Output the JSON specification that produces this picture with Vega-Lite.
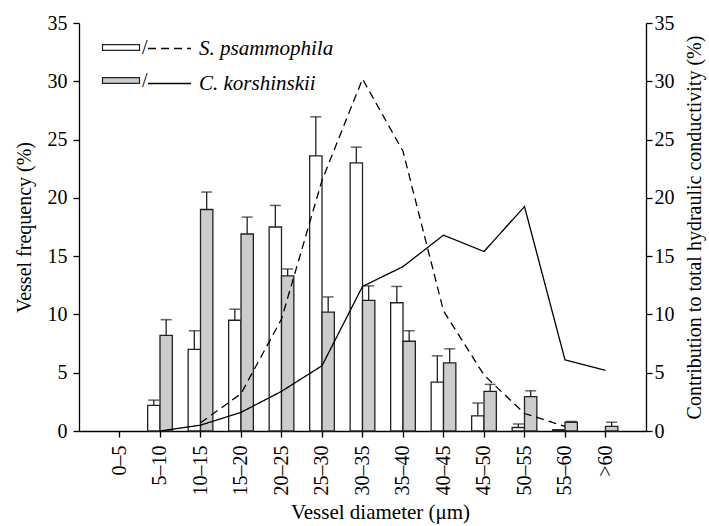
{
  "$schema": "https://vega.github.io/schema/vega-lite/v6.json",
  "width": 567,
  "height": 408,
  "autosize": {"type": "none"},
  "padding": {"left": 79, "top": 23, "right": 63, "bottom": 95},
  "background": "white",
  "config": {
    "view": {"stroke": null},
    "font": "Liberation Serif",
    "axis": {
      "labelFont": "Liberation Serif", "titleFont": "Liberation Serif",
      "labelFontSize": 20, "titleFontSize": 20, "titleFontWeight": "normal",
      "labelColor": "black", "titleColor": "black", "domainColor": "black", "tickColor": "black",
      "grid": false, "tickSize": 6, "domainWidth": 1.3, "tickWidth": 1.3
    },
    "legend": {"labelFont": "Liberation Serif", "labelFontSize": 21, "labelColor": "black", "padding": 0}
  },
  "datasets": {
    "bars": [
      {"d": "5–10", "sp": "S. psammophila", "freq": 2.2, "hi": 2.65},
      {"d": "5–10", "sp": "C. korshinskii", "freq": 8.2, "hi": 9.55},
      {"d": "10–15", "sp": "S. psammophila", "freq": 7.0, "hi": 8.6},
      {"d": "10–15", "sp": "C. korshinskii", "freq": 19.0, "hi": 20.5},
      {"d": "15–20", "sp": "S. psammophila", "freq": 9.5, "hi": 10.45},
      {"d": "15–20", "sp": "C. korshinskii", "freq": 16.9, "hi": 18.35},
      {"d": "20–25", "sp": "S. psammophila", "freq": 17.5, "hi": 19.35},
      {"d": "20–25", "sp": "C. korshinskii", "freq": 13.3, "hi": 13.9},
      {"d": "25–30", "sp": "S. psammophila", "freq": 23.6, "hi": 26.95},
      {"d": "25–30", "sp": "C. korshinskii", "freq": 10.2, "hi": 11.5},
      {"d": "30–35", "sp": "S. psammophila", "freq": 23.0, "hi": 24.35},
      {"d": "30–35", "sp": "C. korshinskii", "freq": 11.2, "hi": 12.45},
      {"d": "35–40", "sp": "S. psammophila", "freq": 11.0, "hi": 12.4},
      {"d": "35–40", "sp": "C. korshinskii", "freq": 7.7, "hi": 8.6},
      {"d": "40–45", "sp": "S. psammophila", "freq": 4.2, "hi": 6.45},
      {"d": "40–45", "sp": "C. korshinskii", "freq": 5.85, "hi": 7.05},
      {"d": "45–50", "sp": "S. psammophila", "freq": 1.3, "hi": 2.4},
      {"d": "45–50", "sp": "C. korshinskii", "freq": 3.4, "hi": 4.0},
      {"d": "50–55", "sp": "S. psammophila", "freq": 0.3, "hi": 0.6},
      {"d": "50–55", "sp": "C. korshinskii", "freq": 2.95, "hi": 3.45},
      {"d": "55–60", "sp": "S. psammophila", "freq": 0.1, "hi": 0.1},
      {"d": "55–60", "sp": "C. korshinskii", "freq": 0.75, "hi": 0.82},
      {"d": ">60", "sp": "C. korshinskii", "freq": 0.4, "hi": 0.75}
    ],
    "lines": [
      {"d": "10–15", "line": "S", "cond": 0.7},
      {"d": "15–20", "line": "S", "cond": 3.2},
      {"d": "20–25", "line": "S", "cond": 9.6},
      {"d": "25–30", "line": "S", "cond": 21.5},
      {"d": "30–35", "line": "S", "cond": 30.2},
      {"d": "35–40", "line": "S", "cond": 24.0},
      {"d": "40–45", "line": "S", "cond": 10.3},
      {"d": "45–50", "line": "S", "cond": 4.8},
      {"d": "50–55", "line": "S", "cond": 1.5},
      {"d": "55–60", "line": "S", "cond": 0.4},
      {"d": "5–10", "line": "C", "cond": 0.0},
      {"d": "10–15", "line": "C", "cond": 0.5},
      {"d": "15–20", "line": "C", "cond": 1.6},
      {"d": "20–25", "line": "C", "cond": 3.4},
      {"d": "25–30", "line": "C", "cond": 5.6},
      {"d": "30–35", "line": "C", "cond": 12.4},
      {"d": "35–40", "line": "C", "cond": 14.1},
      {"d": "40–45", "line": "C", "cond": 16.8},
      {"d": "45–50", "line": "C", "cond": 15.4},
      {"d": "50–55", "line": "C", "cond": 19.25},
      {"d": "55–60", "line": "C", "cond": 6.1},
      {"d": ">60", "line": "C", "cond": 5.2}
    ]
  },
  "encoding": {
    "x": {
      "field": "d", "type": "nominal",
      "scale": {"domain": ["0–5", "5–10", "10–15", "15–20", "20–25", "25–30", "30–35", "35–40", "40–45", "45–50", "50–55", "55–60", ">60"], "paddingInner": 0.39, "paddingOuter": 0.695},
      "axis": {"title": "Vessel diameter (μm)", "titleFontSize": 21, "labelAngle": 270, "labelAlign": "right", "labelBaseline": "middle", "labelPadding": 8, "titlePadding": 6, "titleX": 301}
    }
  },
  "layer": [
    {
      "data": {"name": "bars"},
      "layer": [
        {
          "mark": {"type": "bar", "stroke": "#222", "strokeWidth": 1.3},
          "encoding": {
            "xOffset": {"field": "sp", "type": "nominal", "scale": {"domain": ["S. psammophila", "C. korshinskii"], "paddingInner": 0, "paddingOuter": 0}},
            "y": {"field": "freq", "type": "quantitative", "scale": {"domain": [0, 35], "nice": false}, "axis": {"title": "Vessel frequency (%)", "values": [0, 5, 10, 15, 20, 25, 30, 35], "titlePadding": 13, "labelPadding": 6}},
            "fill": {"field": "sp", "type": "nominal", "scale": {"domain": ["S. psammophila", "C. korshinskii"], "range": ["white", "#cccccc"]},
              "legend": {"orient": "none", "legendX": 32, "legendY": 14.5, "title": null, "symbolType": "M-2,-0.32H2V0.32H-2Z", "symbolSize": 342, "labelExpr": "'/'", "labelFontSize": 20, "symbolStrokeColor": "#222", "symbolStrokeWidth": 1.2, "rowPadding": 13, "labelOffset": 11}}
          }
        },
        {
          "mark": {"type": "rule", "color": "#222", "strokeWidth": 1.3},
          "encoding": {
            "xOffset": {"field": "sp", "type": "nominal"},
            "y": {"field": "freq", "type": "quantitative"},
            "y2": {"field": "hi"}
          }
        },
        {
          "mark": {"type": "tick", "color": "#222", "thickness": 1.5, "size": 11},
          "encoding": {
            "xOffset": {"field": "sp", "type": "nominal"},
            "y": {"field": "hi", "type": "quantitative"}
          }
        }
      ]
    },
    {
      "data": {"name": "lines"},
      "mark": {"type": "line", "color": "black", "strokeWidth": 1.3},
      "encoding": {
        "y": {"field": "cond", "type": "quantitative", "scale": {"domain": [0, 35], "nice": false}, "axis": {"orient": "right", "title": "Contribution to total hydraulic conductivity (%)", "titleAngle": 270, "titleBaseline": "top", "values": [0, 5, 10, 15, 20, 25, 30, 35], "labelPadding": 2, "titlePadding": 10}},
        "strokeDash": {"field": "line", "type": "nominal", "scale": {"domain": ["S", "C"], "range": [[8, 5], [1, 0]]},
          "legend": {"orient": "none", "legendX": 79, "legendY": 14, "title": null, "symbolType": "M-2,0H2", "symbolSize": 462, "labelFontStyle": "italic", "labelExpr": "datum.label == 'S' ? 'S. psammophila' : 'C. korshinskii'", "symbolStrokeColor": "black", "symbolStrokeWidth": 1.3, "rowPadding": 13, "labelOffset": 18}}
      }
    }
  ],
  "resolve": {"scale": {"y": "independent"}}
}
